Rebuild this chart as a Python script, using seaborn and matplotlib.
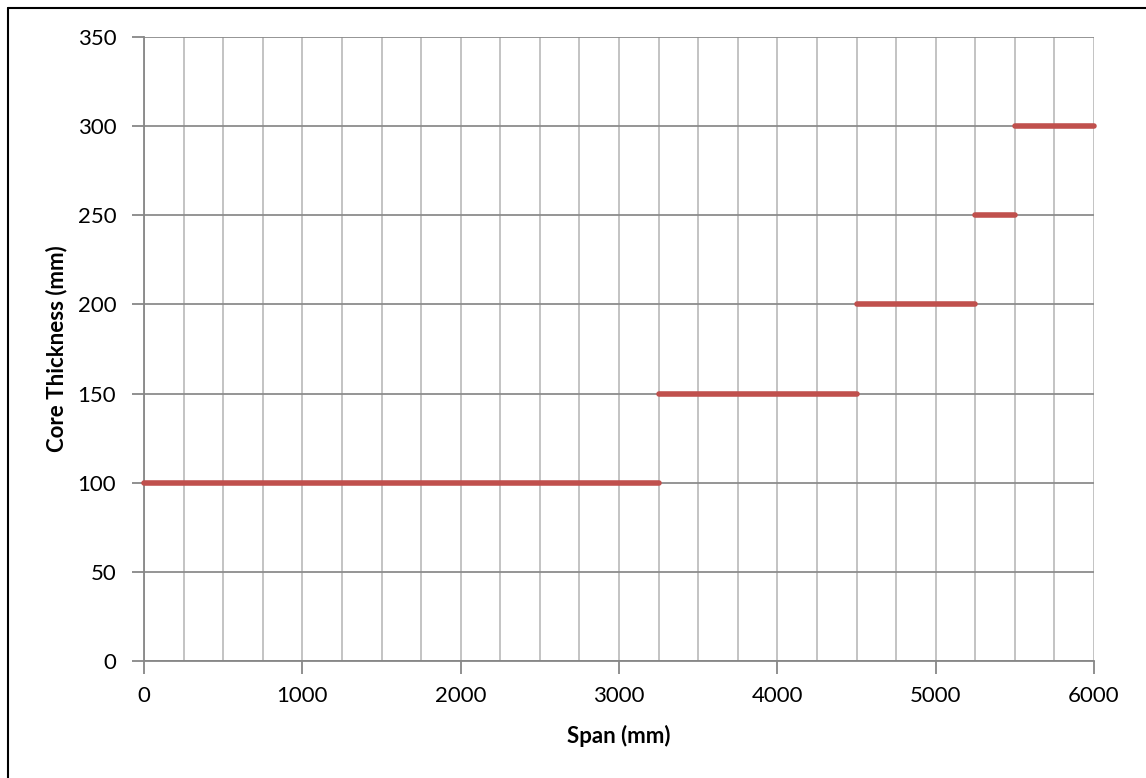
import matplotlib
matplotlib.use("Agg")
import matplotlib.pyplot as plt
import seaborn as sns
import pandas as pd
from matplotlib.lines import Line2D
from matplotlib.ticker import MultipleLocator

# Span ranges (mm) and the core thickness required over each range
span_start = [0, 3250, 4500, 5250, 5500]
span_end = [3250, 4500, 5250, 5500, 6000]
core_thickness = [100, 150, 200, 250, 300]

rows = []
for i, (a, b, t) in enumerate(zip(span_start, span_end, core_thickness)):
    rows.append({"seg": i, "span": a, "thickness": t})
    rows.append({"seg": i, "span": b, "thickness": t})
df = pd.DataFrame(rows)

sns.set_theme(style="white")
plt.rcParams["font.family"] = ["Lato", "DejaVu Sans"]

W, H = 1146, 778
fig = plt.figure(figsize=(W / 100, H / 100), dpi=100)
ax = fig.add_axes([144 / W, 1 - 661 / H, (1094 - 144) / W, (661 - 37) / H])

sns.lineplot(data=df, x="span", y="thickness", units="seg", estimator=None,
             color="#C0504D", linewidth=4, ax=ax, legend=False,
             solid_capstyle="round", zorder=3, clip_on=False)

ax.set_xlim(0, 6000)
ax.set_ylim(0, 350)
ax.xaxis.set_major_locator(MultipleLocator(1000))
ax.xaxis.set_minor_locator(MultipleLocator(250))
ax.yaxis.set_major_locator(MultipleLocator(50))

ax.grid(False)
ax.grid(True, axis="x", which="both", color="#BEBEBE", linewidth=1.3)
ax.grid(True, axis="y", which="major", color="#8C8C8C", linewidth=1.3)
ax.set_axisbelow(True)

for side in ("top", "right"):
    ax.spines[side].set_visible(False)
for side in ("left", "bottom"):
    ax.spines[side].set_color("#878787")
    ax.spines[side].set_linewidth(1.3)

ax.tick_params(axis="y", which="major", direction="out", length=9, width=1.3,
               color="#878787", labelsize=16, labelcolor="black", pad=11, left=True)
ax.tick_params(axis="x", which="major", direction="out", length=9, width=1.3,
               color="#878787", labelsize=16, labelcolor="black", pad=9, bottom=True)
ax.tick_params(axis="x", which="minor", length=0)

ax.set_xlabel("Span (mm)", fontsize=16, fontweight="bold", color="black", va="center")
ax.set_ylabel("Core Thickness (mm)", fontsize=16, fontweight="bold", color="black", va="center")
ax.xaxis.set_label_coords((619 - 144) / 950, (661 - 736) / 624)
ax.yaxis.set_label_coords((57 - 144) / 950, 0.5)

# frame lines along the left and top edges of the figure
fig.add_artist(Line2D([8 / W, 8 / W], [0, 1 - 8 / H], transform=fig.transFigure,
                      color="black", linewidth=1.5))
fig.add_artist(Line2D([8 / W, 1], [1 - 8 / H, 1 - 8 / H], transform=fig.transFigure,
                      color="black", linewidth=1.5))

fig.savefig("out.png", dpi=100, facecolor="white")
